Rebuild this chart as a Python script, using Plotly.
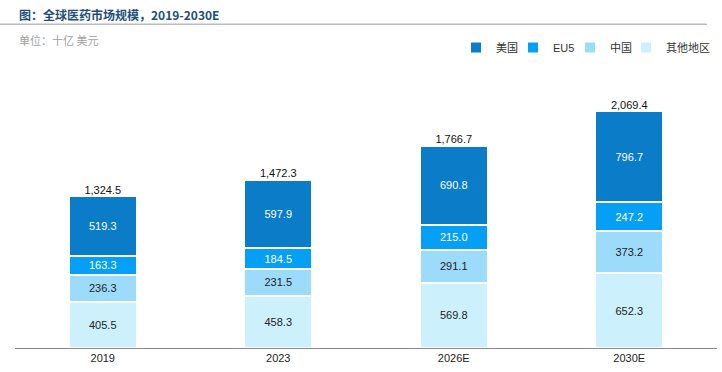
import plotly.graph_objects as go

years = ["2019", "2023", "2026E", "2030E"]
us = [519.3, 597.9, 690.8, 796.7]
eu5 = [163.3, 184.5, 215.0, 247.2]
china = [236.3, 231.5, 291.1, 373.2]
others = [405.5, 458.3, 569.8, 652.3]
totals = [1324.5, 1472.3, 1766.7, 2069.4]

font_fam = "Liberation Sans, Arial, Noto Sans CJK SC, sans-serif"

# name, values, colour, label colour, legend id, legend symbol x (px)
series = [
    ("其他地区", others, "#CCF1FD", "#222222", "legend4", 640),
    ("中国", china, "#9CDCFA", "#222222", "legend3", 584),
    ("EU5", eu5, "#05A0F5", "#FFFFFF", "legend2", 527),
    ("美国", us, "#0A7CC8", "#FFFFFF", "legend", 470),
]

fig = go.Figure()
legends = {}
for name, vals, col, tcol, lg, sx in series:
    fig.add_trace(go.Bar(
        x=years, y=vals, name=name, legend=lg,
        marker=dict(color=col, line=dict(color="white", width=2)),
        texttemplate="%{y:.1f}", textposition="inside",
        insidetextanchor="middle", constraintext="none",
        textfont=dict(color=tcol, size=11, family=font_fam),
        hoverinfo="skip",
    ))
    legends[lg] = dict(orientation="h", x=(sx - 15 - 14) / 702, xanchor="left",
                       y=1.051, yanchor="middle",
                       font=dict(size=11, color="#333333"),
                       bgcolor="rgba(0,0,0,0)")

fig.add_trace(go.Scatter(
    x=years, y=totals, mode="text",
    text=[f"{t:,.1f}" for t in totals],
    textposition="top center",
    textfont=dict(color="#111111", size=11, family=font_fam),
    showlegend=False, hoverinfo="skip",
))

fig.update_layout(
    barmode="stack",
    bargap=0.61,
    width=722, height=372,
    margin=dict(l=15, r=5, t=62, b=24),
    plot_bgcolor="white", paper_bgcolor="white",
    font=dict(family=font_fam, size=11, color="#222222"),
    xaxis=dict(showline=True, linecolor="#8a8a8a", linewidth=1, ticks="",
               tickfont=dict(size=11, color="#222222"), showgrid=False),
    yaxis=dict(range=[0, 2500], visible=False, showgrid=False),
    showlegend=True,
    shapes=[dict(type="line", xref="paper", yref="paper",
                 x0=-15/702, x1=692/702, y0=1.132, y1=1.132,
                 line=dict(color="#BBBBBB", width=1.5))],
    annotations=[
        dict(text="<b>图：全球医药市场规模，2019-2030E</b>", xref="paper", yref="paper",
             x=2/702, y=(347.7-14)/286, xanchor="left", yanchor="middle", showarrow=False,
             font=dict(size=12, color="#1F4E79", family="Noto Sans CJK SC, Liberation Sans")),
        dict(text="单位：十亿 美元", xref="paper", yref="paper",
             x=2/702, y=(347.7-40)/286, xanchor="left", yanchor="middle", showarrow=False,
             font=dict(size=11, color="#A0A0A0", family="Noto Sans CJK SC, Liberation Sans")),
    ],
)
fig.update_layout(**legends)

fig.write_html("out.html", config={"displayModeBar": False},
               post_script="document.body.style.margin='0';")
